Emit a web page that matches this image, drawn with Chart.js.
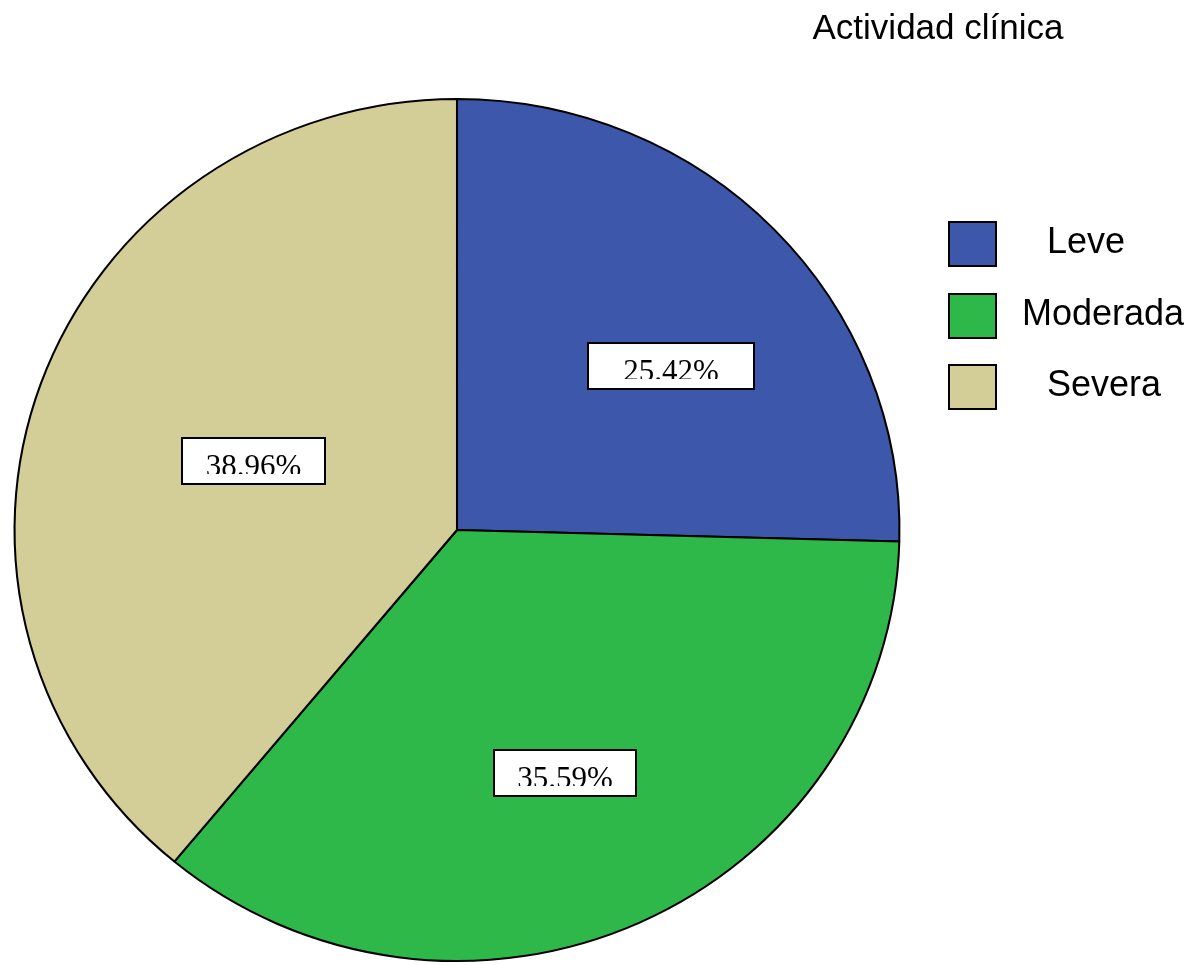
<!DOCTYPE html>
<html>
<head>
<meta charset="utf-8">
<script src="https://cdn.jsdelivr.net/npm/chart.js@4/dist/chart.umd.min.js"></script>
<style>
  html, body { margin: 0; padding: 0; background: #fff; overflow: hidden; }
  #wrap { position: relative; width: 1204px; height: 980px; }
</style>
</head>
<body>
<div id="wrap"><canvas id="c" width="1204" height="980"></canvas></div>
<script>
const title = "Actividad clínica";
const categories = ["Leve", "Moderada", "Severa"];
const percentages = [25.42, 35.59, 38.96];
const colors = ["#3D58AB", "#2EB84A", "#D3CE98"];

// styling constants
const X_STRETCH = 1.0266;
const labelBoxWidths = [168, 144, 145];
const labelNudges = [[27, 13], [0, 11], [42, 17]];
const legendTextX = [1047, 1022, 1047];

const overlayPlugin = {
  id: 'overlay',
  beforeDatasetsDraw(chart) {
    const meta = chart.getDatasetMeta(0);
    const a = meta.data[0];
    const ctx = chart.ctx;
    ctx.save();
    ctx.translate(a.x, 0);
    ctx.scale(X_STRETCH, 1);
    ctx.translate(-a.x, 0);
  },
  afterDatasetsDraw(chart) {
    const ctx = chart.ctx;
    ctx.restore();
    const meta = chart.getDatasetMeta(0);
    ctx.save();
    meta.data.forEach((arc, i) => {
      const p = arc.getProps(['x', 'y', 'startAngle', 'endAngle', 'outerRadius'], true);
      const mid = (p.startAngle + p.endAngle) / 2;
      const r = p.outerRadius * 0.59;
      const cx = p.x + Math.cos(mid) * r * X_STRETCH + labelNudges[i][0];
      const cy = p.y + Math.sin(mid) * r + labelNudges[i][1];
      const w = labelBoxWidths[i], h = 48;
      const left = Math.round(cx - w / 2), top = Math.round(cy - h / 2);
      ctx.fillStyle = '#fff';
      ctx.fillRect(left, top, w, h);
      ctx.save();
      ctx.beginPath();
      ctx.rect(left, top, w, 37);
      ctx.clip();
      ctx.fillStyle = '#000';
      ctx.font = '31px "Liberation Serif", "Times New Roman", serif';
      ctx.textAlign = 'center';
      ctx.textBaseline = 'alphabetic';
      ctx.fillText(percentages[i].toFixed(2) + '%', left + w / 2, top + 39);
      ctx.restore();
      ctx.lineWidth = 2;
      ctx.strokeStyle = '#000';
      ctx.strokeRect(left + 1, top + 1, w - 2, h - 2);
    });
    ctx.fillStyle = '#000';
    ctx.font = '35px "Liberation Sans", Arial, sans-serif';
    ctx.textAlign = 'center';
    ctx.textBaseline = 'alphabetic';
    ctx.fillText(title, 938, 39);
    const boxTops = [221, 293, 364];
    categories.forEach((cat, i) => {
      ctx.fillStyle = colors[i];
      ctx.fillRect(948, boxTops[i], 49, 46);
      ctx.lineWidth = 2;
      ctx.strokeStyle = '#000';
      ctx.strokeRect(949, boxTops[i] + 1, 47, 44);
      ctx.fillStyle = '#000';
      ctx.font = '36px "Liberation Sans", Arial, sans-serif';
      ctx.textAlign = 'left';
      ctx.textBaseline = 'middle';
      ctx.fillText(cat, legendTextX[i], boxTops[i] + 22);
    });
    ctx.restore();
  }
};

new Chart(document.getElementById('c'), {
  type: 'pie',
  data: {
    labels: categories,
    datasets: [{
      data: percentages,
      backgroundColor: colors,
      borderColor: '#000',
      borderWidth: 2
    }]
  },
  options: {
    responsive: false,
    animation: false,
    layout: { padding: { left: 25, right: 315, top: 98, bottom: 18 } },
    plugins: {
      legend: { display: false },
      tooltip: { enabled: false },
      title: { display: false }
    }
  },
  plugins: [overlayPlugin]
});
</script>
</body>
</html>
